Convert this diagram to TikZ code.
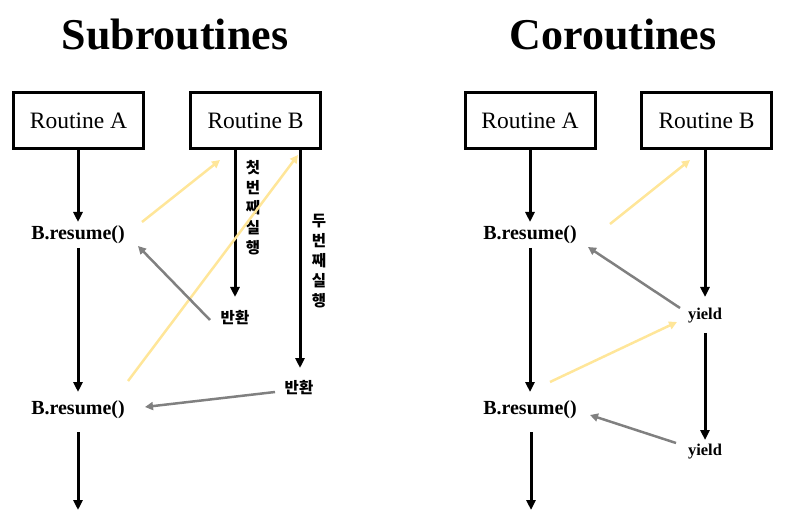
\documentclass[tikz,border=0pt]{standalone}
\usepackage{fontspec}
\setmainfont{Liberation Serif}
\newfontfamily\kr{Noto Sans CJK KR}
\usetikzlibrary{arrows.meta}
\definecolor{goyellow}{HTML}{FFE699}
\definecolor{backgray}{HTML}{808080}
\begin{document}
\begin{tikzpicture}[x=1pt,y=-1pt,
  routine/.style={draw, line width=3pt, minimum width=130pt, minimum height=56pt, inner sep=0pt, font=\fontsize{23.5}{26}\selectfont},
  title/.style={font=\bfseries\fontsize{44}{48}\selectfont},
  call/.style={font=\bfseries\fontsize{20}{22}\selectfont, inner sep=0pt},
  yld/.style={font=\bfseries\fontsize{16.5}{18}\selectfont, inner sep=0pt},
  krtext/.style={font=\kr\bfseries\fontsize{15.5}{20}\selectfont, inner sep=0pt, align=center},
  flow/.style={line width=3pt, -{Triangle[length=10pt,width=9pt]}},
  goarrow/.style={line width=2.5pt, goyellow, -{Triangle[length=8pt,width=8pt]}},
  backarrow/.style={line width=2.5pt, backgray, -{Triangle[length=8pt,width=8pt]}}]
\useasboundingbox (0,0) rectangle (798,521);

% ---------- Subroutines ----------
\node[title] (tsub) at (175,35) {Subroutines};
\node[routine] (sa) at (78.5,120.5) {Routine A};
\node[routine] (sb) at (255.5,120.5) {Routine B};

\node[call] (sr1) at (78,235) {B.resume()};
\node[call] (sr2) at (78,410) {B.resume()};

\coordinate (sa0) at (78,150);
\coordinate (sa1) at (78,222);
\coordinate (sa2) at (78,248);
\coordinate (sa3) at (78,392);
\coordinate (sa4) at (78,432);
\coordinate (sa5) at (78,510);
\draw[flow] (sa0) -- (sa1);
\draw[flow] (sa2) -- (sa3);
\draw[flow] (sa4) -- (sa5);

\coordinate (sb1top) at (235,150);
\coordinate (sb1end) at (235,297);
\coordinate (sb2top) at (300,150);
\coordinate (sb2end) at (300,368);
\draw[flow] (sb1top) -- (sb1end);
\draw[flow] (sb2top) -- (sb2end);

\node[krtext] (first) at (253,208) {첫\\번\\째\\실\\행};
\node[krtext] (second) at (319,261) {두\\번\\째\\실\\행};

\node[krtext] (ret1) at (235,318) {반환};
\node[krtext] (ret2) at (299,388) {반환};

\coordinate (sg1s) at (142,222);
\coordinate (sg1e) at (220,160);
\coordinate (sg2s) at (128,381);
\coordinate (sg2e) at (298,155);
\draw[goarrow] (sg1s) -- (sg1e);
\draw[goarrow] (sg2s) -- (sg2e);

\coordinate (sk1s) at (210,320);
\coordinate (sk1e) at (138,246);
\coordinate (sk2s) at (275,392);
\coordinate (sk2e) at (145,407);
\draw[backarrow] (sk1s) -- (sk1e);
\draw[backarrow] (sk2s) -- (sk2e);

% ---------- Coroutines ----------
\node[title] (tco) at (613,35) {Coroutines};
\node[routine] (ca) at (530,120.5) {Routine A};
\node[routine] (cb) at (706.5,120.5) {Routine B};

\node[call] (cr1) at (530,235) {B.resume()};
\node[call] (cr2) at (530,410) {B.resume()};

\coordinate (ca0) at (530,150);
\coordinate (ca1) at (530,222);
\coordinate (ca2) at (530,248);
\coordinate (ca3) at (530,392);
\coordinate (ca4) at (531,432);
\coordinate (ca5) at (531,510);
\draw[flow] (ca0) -- (ca1);
\draw[flow] (ca2) -- (ca3);
\draw[flow] (ca4) -- (ca5);

\node[yld] (y1) at (705,316) {yield};
\node[yld] (y2) at (705,452) {yield};

\coordinate (cb0) at (705,150);
\coordinate (cb1) at (705,297);
\coordinate (cb2) at (705,333);
\coordinate (cb3) at (705,440);
\draw[flow] (cb0) -- (cb1);
\draw[flow] (cb2) -- (cb3);

\coordinate (cg1s) at (610,224);
\coordinate (cg1e) at (690,160);
\coordinate (cg2s) at (550,382);
\coordinate (cg2e) at (677,322);
\draw[goarrow] (cg1s) -- (cg1e);
\draw[goarrow] (cg2s) -- (cg2e);

\coordinate (ck1s) at (680,308);
\coordinate (ck1e) at (588,247);
\coordinate (ck2s) at (676,443);
\coordinate (ck2e) at (590,415);
\draw[backarrow] (ck1s) -- (ck1e);
\draw[backarrow] (ck2s) -- (ck2e);
\end{tikzpicture}
\end{document}
